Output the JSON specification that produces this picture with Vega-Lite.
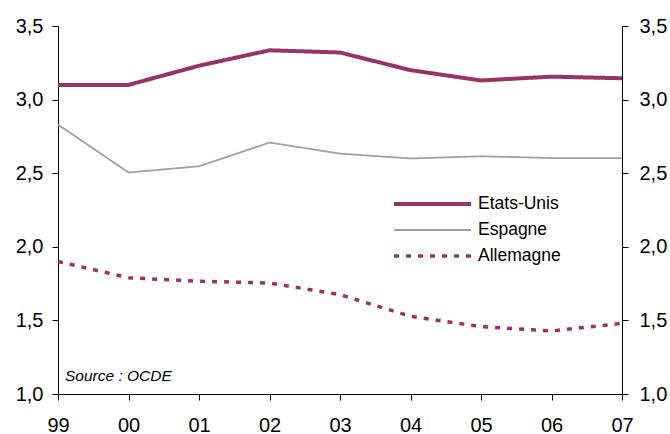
{
  "$schema": "https://vega.github.io/schema/vega-lite/v6.json",
  "width": 564,
  "height": 368,
  "autosize": "none",
  "padding": {"left": 58, "top": 26, "right": 48, "bottom": 40},
  "background": "white",
  "config": {
    "font": "Liberation Sans",
    "view": {"stroke": null},
    "axis": {
      "grid": false,
      "domainColor": "#000",
      "tickColor": "#000",
      "labelColor": "#000",
      "labelFont": "Liberation Sans",
      "labelFontSize": 20,
      "tickSize": 6,
      "domainWidth": 1,
      "tickWidth": 1,
      "title": null
    }
  },
  "datasets": {
    "series": [
      {"annee": "99", "pays": "Etats-Unis", "valeur": 3.10},
      {"annee": "00", "pays": "Etats-Unis", "valeur": 3.10},
      {"annee": "01", "pays": "Etats-Unis", "valeur": 3.23},
      {"annee": "02", "pays": "Etats-Unis", "valeur": 3.335},
      {"annee": "03", "pays": "Etats-Unis", "valeur": 3.32},
      {"annee": "04", "pays": "Etats-Unis", "valeur": 3.20},
      {"annee": "05", "pays": "Etats-Unis", "valeur": 3.13},
      {"annee": "06", "pays": "Etats-Unis", "valeur": 3.156},
      {"annee": "07", "pays": "Etats-Unis", "valeur": 3.145},
      {"annee": "99", "pays": "Espagne", "valeur": 2.83},
      {"annee": "00", "pays": "Espagne", "valeur": 2.505},
      {"annee": "01", "pays": "Espagne", "valeur": 2.547},
      {"annee": "02", "pays": "Espagne", "valeur": 2.708},
      {"annee": "03", "pays": "Espagne", "valeur": 2.633},
      {"annee": "04", "pays": "Espagne", "valeur": 2.60},
      {"annee": "05", "pays": "Espagne", "valeur": 2.615},
      {"annee": "06", "pays": "Espagne", "valeur": 2.603},
      {"annee": "07", "pays": "Espagne", "valeur": 2.603},
      {"annee": "99", "pays": "Allemagne", "valeur": 1.90},
      {"annee": "00", "pays": "Allemagne", "valeur": 1.79},
      {"annee": "01", "pays": "Allemagne", "valeur": 1.766},
      {"annee": "02", "pays": "Allemagne", "valeur": 1.754},
      {"annee": "03", "pays": "Allemagne", "valeur": 1.675},
      {"annee": "04", "pays": "Allemagne", "valeur": 1.528},
      {"annee": "05", "pays": "Allemagne", "valeur": 1.458},
      {"annee": "06", "pays": "Allemagne", "valeur": 1.428},
      {"annee": "07", "pays": "Allemagne", "valeur": 1.48}
    ],
    "source": [
      {"annee": "99", "valeur": 1.12, "texte": "Source : OCDE"}
    ]
  },
  "layer": [
    {
      "data": {"name": "series"},
      "mark": {"type": "line"},
      "encoding": {
        "x": {
          "field": "annee",
          "type": "ordinal",
          "scale": {"type": "point", "padding": 0, "domain": ["99", "00", "01", "02", "03", "04", "05", "06", "07"]},
          "axis": {"labelAngle": 0, "labelPadding": 15, "title": null}
        },
        "y": {
          "field": "valeur",
          "type": "quantitative",
          "scale": {"domain": [1, 3.5], "nice": false, "zero": false},
          "axis": {
            "orient": "left",
            "values": [1, 1.5, 2, 2.5, 3, 3.5],
            "labelExpr": "replace(format(datum.value, '.1f'), '.', ',')",
            "labelPadding": 9,
            "title": null
          }
        },
        "color": {
          "field": "pays",
          "type": "nominal",
          "scale": {"domain": ["Etats-Unis", "Espagne", "Allemagne"], "range": ["#993366", "#a0a0a0", "#993366"]},
          "legend": {
            "title": null,
            "orient": "none",
            "legendX": 334,
            "legendY": 169,
            "symbolType": "stroke",
            "symbolSize": 5929,
            "labelFontSize": 17.5,
            "labelFont": "Liberation Sans",
            "labelColor": "#000",
            "labelOffset": 5,
            "clipHeight": 18,
            "rowPadding": 8,
            "padding": 0
          }
        },
        "strokeWidth": {
          "field": "pays",
          "type": "nominal",
          "scale": {"type": "ordinal", "domain": ["Etats-Unis", "Espagne", "Allemagne"], "range": [4, 1.8, 3.5]}
        },
        "strokeDash": {
          "field": "pays",
          "type": "nominal",
          "scale": {"domain": ["Etats-Unis", "Espagne", "Allemagne"], "range": [[1, 0], [1, 0], [5, 7]]}
        }
      }
    },
    {
      "data": {"name": "series"},
      "mark": {"type": "point", "opacity": 0, "size": 0},
      "encoding": {
        "x": {"field": "annee", "type": "ordinal"},
        "y": {
          "field": "valeur",
          "type": "quantitative",
          "axis": {
            "orient": "right",
            "values": [1, 1.5, 2, 2.5, 3, 3.5],
            "labelExpr": "replace(format(datum.value, '.1f'), '.', ',')",
            "labelPadding": 11,
            "title": null
          }
        }
      }
    },
    {
      "data": {"name": "source"},
      "mark": {"type": "text", "align": "left", "baseline": "middle", "dx": 7, "fontStyle": "italic", "fontSize": 15.5, "font": "Liberation Sans", "color": "#000"},
      "encoding": {
        "x": {"field": "annee", "type": "ordinal"},
        "y": {"field": "valeur", "type": "quantitative", "axis": null},
        "text": {"field": "texte"}
      }
    }
  ],
  "resolve": {"axis": {"y": "independent"}}
}
